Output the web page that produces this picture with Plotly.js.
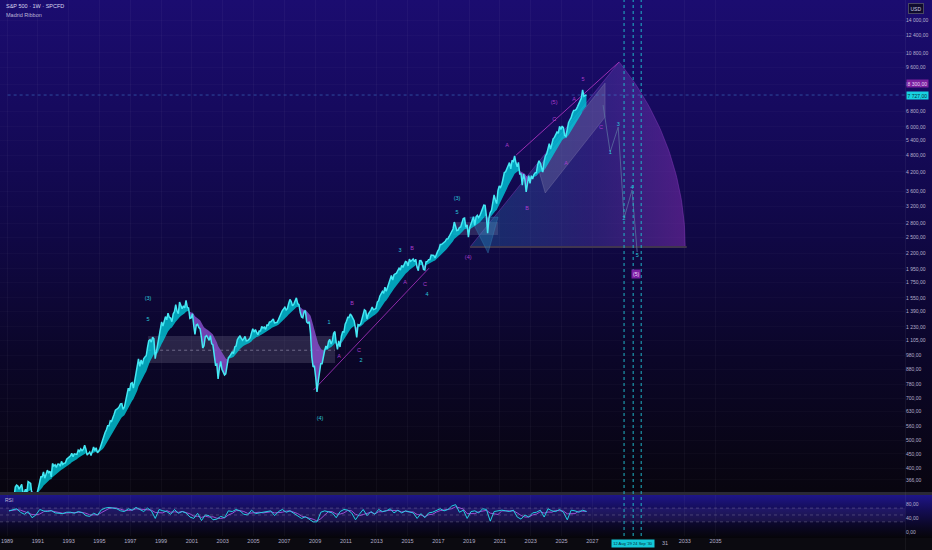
<!DOCTYPE html>
<html><head><meta charset="utf-8">
<script src="https://cdn.plot.ly/plotly-3.0.1.min.js"></script>
<style>
html,body{margin:0;padding:0;background:#07060c;width:932px;height:550px;overflow:hidden;}
#bgMain{position:absolute;left:0;top:0;width:932px;height:493px;background:linear-gradient(to bottom,#1b0c70 0%,#160a5e 22%,#100845 48%,#0b0629 72%,#08050f 100%);}
#bgRsi{position:absolute;left:0;top:495px;width:932px;height:43px;background:linear-gradient(to bottom,#1e1588 0%,#140d55 35%,#0a0722 75%,#060509 100%);}
#sep{position:absolute;left:0;top:492px;width:932px;height:3px;background:#2a2935;}
#bottom{position:absolute;left:0;top:538px;width:932px;height:12px;background:#0b0a10;}
#vsep{position:absolute;left:905px;top:0;width:1px;height:550px;background:rgba(255,255,255,0.05);}
#chart{position:absolute;left:0;top:0;width:932px;height:550px;}
</style></head>
<body>
<div id="bgMain"></div><div id="bgRsi"></div><div id="sep"></div><div id="bottom"></div><div id="vsep"></div>
<div id="chart"></div>
<script>
// ---------- DATA (monthly closes, read/estimated from the picture) ----------
const startYear = 1989;
const closes1989_1994 = [
 297.5,288.9,294.9,309.6,320.5,318.0,346.1,351.5,349.2,340.4,346.0,353.4,
 329.1,331.9,339.9,330.8,361.2,358.0,356.2,322.6,306.1,304.0,322.2,330.2,
 343.9,367.1,375.2,375.3,389.8,371.2,387.8,395.4,387.9,392.5,375.2,417.1,
 408.8,412.7,403.7,415.0,415.4,408.1,424.2,414.0,417.8,418.7,431.4,435.7,
 438.8,443.4,451.7,440.2,450.2,450.5,448.1,463.6,458.9,467.8,461.8,466.5,
 481.6,467.1,445.8,450.9,456.5,444.3,458.3,475.5,462.7,472.4,453.7,459.3];
const closes1995_2000 = [
 470.4,487.4,500.7,514.7,533.4,544.8,562.1,561.9,584.4,581.5,605.4,615.9,
 636.0,640.4,645.5,654.2,669.1,670.6,640.0,652.0,687.3,705.3,757.0,740.7,
 786.2,790.8,757.1,801.3,848.3,885.1,954.3,899.5,947.3,914.6,955.4,970.4,
 980.3,1049.3,1101.8,1111.8,1090.8,1133.8,1120.7,957.3,1017.0,1098.7,1163.6,1229.2,
 1279.6,1238.3,1286.4,1335.2,1301.8,1372.7,1328.7,1320.4,1282.7,1362.9,1388.9,1469.3,
 1394.5,1366.4,1498.6,1452.4,1420.6,1454.6,1430.8,1517.7,1436.5,1429.4,1315.0,1320.3];
const closes2001_2006 = [
 1366.0,1239.9,1160.3,1249.5,1255.8,1224.4,1211.2,1133.6,1040.9,1059.8,1139.5,1148.1,
 1130.2,1106.7,1147.4,1076.9,1067.1,989.8,911.6,916.1,815.3,885.8,936.3,879.8,
 855.7,841.2,848.2,916.9,963.6,974.5,990.3,1008.0,996.0,1050.7,1058.2,1111.9,
 1131.1,1144.9,1126.2,1107.3,1120.7,1140.8,1101.7,1104.2,1114.6,1130.2,1173.8,1211.9,
 1181.3,1203.6,1180.6,1156.9,1191.5,1191.3,1234.2,1220.3,1228.8,1207.0,1249.5,1248.3,
 1280.1,1280.7,1294.8,1310.6,1270.1,1270.2,1276.7,1303.8,1335.9,1377.9,1400.6,1418.3];
const closes2007_2012 = [
 1438.2,1406.8,1420.9,1482.4,1530.6,1503.4,1455.3,1474.0,1526.8,1549.4,1481.1,1468.4,
 1378.6,1330.6,1322.7,1385.6,1400.4,1280.0,1267.4,1282.8,1166.4,968.8,896.2,903.3,
 825.9,735.1,797.9,872.8,919.1,919.3,987.5,1020.6,1057.1,1036.2,1095.6,1115.1,
 1073.9,1104.5,1169.4,1186.7,1089.4,1030.7,1101.6,1049.3,1141.2,1183.3,1180.6,1257.6,
 1286.1,1327.2,1325.8,1363.6,1345.2,1320.6,1292.3,1218.9,1131.4,1253.3,1247.0,1257.6,
 1312.4,1365.7,1408.5,1397.9,1310.3,1362.2,1379.3,1406.6,1440.7,1412.2,1416.2,1426.2];
const closes2013_2018 = [
 1498.1,1514.7,1569.2,1597.6,1630.7,1606.3,1685.7,1633.0,1681.6,1756.5,1805.8,1848.4,
 1782.6,1859.5,1872.3,1884.0,1923.6,1960.2,1930.7,2003.4,1972.3,2018.1,2067.6,2058.9,
 1995.0,2104.5,2067.9,2085.5,2107.4,2063.1,2103.8,1972.2,1920.0,2079.4,2080.4,2043.9,
 1940.2,1932.2,2059.7,2065.3,2097.0,2098.9,2173.6,2171.0,2168.3,2126.2,2199.0,2238.8,
 2278.9,2363.6,2362.7,2384.2,2411.8,2423.4,2470.3,2471.7,2519.4,2575.3,2647.6,2673.6,
 2823.8,2713.8,2640.9,2648.1,2705.3,2718.4,2816.3,2901.5,2914.0,2711.7,2760.2,2506.9];
const closes2019_2026 = [
 2704.1,2784.5,2834.4,2945.8,2752.1,2941.8,2980.4,2926.5,2976.7,3037.6,3141.0,3230.8,
 3225.5,2954.2,2584.6,2912.4,3044.3,3100.3,3271.1,3500.3,3363.0,3270.0,3621.6,3756.1,
 3714.2,3811.2,3972.9,4181.2,4204.1,4297.5,4395.3,4522.7,4307.5,4605.4,4567.0,4766.2,
 4515.6,4373.9,4530.4,4131.9,4132.2,3785.4,4130.3,3955.0,3585.6,3872.0,4080.1,3839.5,
 4076.6,3970.2,4109.3,4169.5,4179.8,4450.4,4589.0,4507.7,4288.1,4193.8,4567.8,4769.8,
 4845.7,5096.3,5254.4,5035.7,5277.5,5460.5,5522.3,5648.4,5762.5,5705.5,6032.4,5881.6,
 6040.5,5954.5,5611.9,5569.1,5911.7,6205.0,6339.4,6460.3,6688.5,6840.2,6849.1,6900.0,
 7050,7250,7400,7550,8050,7650,7700,7727];

const rsiStartYear = 1989;
const rsiValues = [
 62,66,68,58, 52,60,42,50, 66,62,60,63, 56,55,54,58, 58,55,60,57, 48,46,55,50,
 65,70,72,70, 68,62,60,68, 64,72,65,60, 70,62,40,66, 62,60,52,66, 55,60,56,44,
 40,55,34,50, 48,36,38,46, 42,62,60,66, 62,52,50,64, 54,56,58,58, 62,48,60,66,
 58,62,54,46, 40,45,38,30, 30,58,62,60, 56,42,60,66, 64,56,36,52, 66,48,60,52,
 66,60,62,68, 56,64,56,62, 58,56,40,54, 42,56,58,62, 68,62,66,76, 80,58,64,40,
 60,62,56,68, 66,32,60,62, 64,62,60,64, 44,38,50,44, 56,58,64,44, 68,62,60,66,
 58,36,64,62, 58,64,60];

// price axis tick labels
const priceTicks = [14000,12400,10800,9600,8400,6800,6000,5400,4800,4200,3600,3200,2800,2500,2200,
 1950,1750,1550,1390,1230,1105,980,880,780,700,630,560,500,450,400,366];
const yearTicks = [1989,1991,1993,1995,1997,1999,2001,2003,2005,2007,2009,2011,2013,2015,2017,2019,2021,2023,2025,2027,2033,2035];
const rsiTicks = [0,40,80];

// drawing anchors (year, price)
const peakHighLabel = 8300;
const arcBaseStart = 2019.06, arcBasePrice = 2317, arcApexYear = 2028.74, arcApexPrice = 10035,
      arcCenterYear = 2013.48, arcEndYear = 2033.03;
const rangeBox = {x0:1998.16, x1:2010.3, y0:925, y1:1145, mid:1023};
const box2019 = {x0:2017.96, x1:2020.88, y0:2547, y1:2825};
const triYears = [2019.06, 2020.88, 2020.23], triPrices = [2937, 2937, 2210];
const channelYears = [2023.48, 2027.83, 2027.83, 2023.94], channelPrices = [4335, 8494, 6490, 3556];
const lowLineYears = [2008.9, 2016.4], lowLinePrices = [746, 1960];
const topLineYears = [2022.05, arcApexYear], topLinePrices = [4800, arcApexPrice];
const projYears = [2027.70, 2028.16, 2028.68, 2029.06, 2029.58, 2029.91];
const projPrices = [7137, 4918, 5995, 2915, 3639, 2227];
const vLineYears = [2029.06, 2029.65, 2030.17];
const cyanLblYears = [1998.16,1998.16,2009.32,2009.91,2011.99,2014.52,2016.27,2018.22,2018.22,2028.16,2028.68,2029.06,2029.58,2029.91];
const cyanLblPrices = [1535,1299,593,1269,939,2245,1584,3388,3034,4879,6090,2892,3698,2157];
const cyanLblTexts = ['(3)','5','(4)','1','2','3','4','(3)','5','1','3','2','4','5'];
const purpLblYears = [2011.40,2010.56,2011.86,2014.84,2015.30,2016.14,2018.94,2021.47,2022.77,2024.52,2024.52,2025.30,2025.82,2026.40,2027.57];
const purpLblPrices = [1475,969,1016,1742,2280,1714,2123,5157,3130,7251,6337,4472,7425,8700,5948];
const purpLblTexts = ['B','A','C','A','B','C','(4)','A','B','(5)','C','A','A','5','C'];

// ---------- helpers ----------
function yd(y){const yr=Math.floor(y);const a=Date.UTC(yr,0,1),b=Date.UTC(yr+1,0,1);return new Date(a+(y-yr)*(b-a)).toISOString().slice(0,10);}
function fmt(v){const s=v.toFixed(2).split('.');return s[0].replace(/\B(?=(\d{3})+(?!\d))/g,' ')+','+s[1];}

const closes = [].concat(closes1989_1994,closes1995_2000,closes2001_2006,closes2007_2012,closes2013_2018,closes2019_2026);
const dates = closes.map((_,i)=>{const y=startYear+Math.floor(i/12),m=i%12;return y+'-'+String(m+1).padStart(2,'0')+'-15';});
const n = closes.length;
const lastClose = closes[n-1];

// Madrid-style ribbon: EMA of closes
const emaN = 16, k = 2/(emaN+1);
const ema = [closes[0]];
for(let i=1;i<n;i++) ema.push(closes[i]*k + ema[i-1]*(1-k));
const state = closes.map((c,i)=>c>=ema[i]);
const upX=[],upY=[],dnX=[],dnY=[];
let s=0;
for(let i=1;i<=n;i++){
  if(i===n || state[i]!==state[s]){
    const e=Math.min(i,n-1);
    const X=[],Y=[];
    for(let j=s;j<=e;j++){X.push(dates[j]);Y.push(closes[j]);}
    for(let j=e;j>=s;j--){X.push(dates[j]);Y.push(ema[j]);}
    if(state[s]){upX.push(...X,null);upY.push(...Y,null);} else {dnX.push(...X,null);dnY.push(...Y,null);}
    s=i;
  }
}

// RSI
const rsiDates = rsiValues.map((_,i)=>yd(rsiStartYear+Math.floor(i/4)+((i%4)*3+1.5)/12));
const rsiMA = rsiValues.map((v,i)=>{const a=rsiValues.slice(Math.max(0,i-2),i+1);return a.reduce((p,q)=>p+q,0)/a.length;});

// arc sector
const cyL = Math.log10(arcBasePrice);
const rx = arcEndYear-arcCenterYear;
const tA = Math.acos((arcApexYear-arcCenterYear)/rx);
const ry = (Math.log10(arcApexPrice)-cyL)/Math.sin(tA);
const secX=[yd(arcBaseStart)], secY=[arcBasePrice];
for(let t=tA;t>=-1e-9;t-=tA/40){secX.push(yd(arcCenterYear+rx*Math.cos(t)));secY.push(Math.pow(10,cyL+ry*Math.sin(t)));}
secX.push(yd(arcEndYear)); secY.push(arcBasePrice);
secX.push(yd(arcBaseStart)); secY.push(arcBasePrice);

const traces = [];
const L = (o)=>Object.assign({type:'scatter',hoverinfo:'skip',xaxis:'x',yaxis:'y'},o);
// range box
traces.push(L({x:[yd(rangeBox.x0),yd(rangeBox.x1),yd(rangeBox.x1),yd(rangeBox.x0),yd(rangeBox.x0)],y:[rangeBox.y0,rangeBox.y0,rangeBox.y1,rangeBox.y1,rangeBox.y0],mode:'lines',fill:'toself',fillcolor:'rgba(140,132,165,0.24)',line:{width:0}}));
traces.push(L({x:[yd(rangeBox.x0),yd(rangeBox.x1)],y:[rangeBox.mid,rangeBox.mid],mode:'lines',line:{color:'rgba(200,195,225,0.55)',width:0.8,dash:'dot'}}));
// sector
traces.push(L({x:secX,y:secY,mode:'lines',fill:'toself',line:{color:'rgba(140,60,190,0.55)',width:0.8},
  fillgradient:{type:'horizontal',colorscale:[[0,'rgba(30,105,165,0.38)'],[0.55,'rgba(75,60,170,0.42)'],[1,'rgba(125,45,175,0.55)']]}}));
// baseline
traces.push(L({x:[yd(arcBaseStart),yd(arcEndYear+0.1)],y:[arcBasePrice,arcBasePrice],mode:'lines',line:{color:'#40354f',width:2}}));
// 2019 box and triangle
traces.push(L({x:[yd(box2019.x0),yd(box2019.x1),yd(box2019.x1),yd(box2019.x0),yd(box2019.x0)],y:[box2019.y0,box2019.y0,box2019.y1,box2019.y1,box2019.y0],mode:'lines',fill:'toself',fillcolor:'rgba(150,150,180,0.22)',line:{width:0}}));
traces.push(L({x:triYears.map(yd).concat([yd(triYears[0])]),y:triPrices.concat([triPrices[0]]),mode:'lines',fill:'toself',fillcolor:'rgba(40,130,185,0.35)',line:{color:'rgba(60,150,200,0.5)',width:0.6}}));
// channel
traces.push(L({x:channelYears.map(yd).concat([yd(channelYears[0])]),y:channelPrices.concat([channelPrices[0]]),mode:'lines',fill:'toself',fillcolor:'rgba(150,148,180,0.26)',line:{color:'rgba(170,165,200,0.4)',width:0.6}}));
// trend lines
traces.push(L({x:lowLineYears.map(yd),y:lowLinePrices,mode:'lines',line:{color:'#8e2aa8',width:1}}));
traces.push(L({x:topLineYears.map(yd),y:topLinePrices,mode:'lines',line:{color:'#9a2fb4',width:1}}));
traces.push(L({x:projYears.map(yd),y:projPrices,mode:'lines',line:{color:'rgba(90,110,160,0.8)',width:1}}));
// current price line
traces.push(L({x:[dates[0],yd(2047.3)],y:[lastClose,lastClose],mode:'lines',line:{color:'rgba(70,140,220,0.5)',width:1,dash:'dot'}}));
// ribbon
traces.push(L({x:upX,y:upY,mode:'lines',fill:'toself',fillcolor:'rgba(0,200,218,0.8)',line:{width:0},connectgaps:false}));
traces.push(L({x:dnX,y:dnY,mode:'lines',fill:'toself',fillcolor:'rgba(132,78,200,0.85)',line:{width:0},connectgaps:false}));
// price
traces.push(L({x:dates,y:closes,mode:'lines',line:{color:'#45e8f4',width:1.5}}));
// RSI
traces.push({type:'scatter',x:rsiDates,y:rsiMA,mode:'lines',line:{color:'#9b4fd4',width:1},xaxis:'x',yaxis:'y2',hoverinfo:'skip'});
traces.push({type:'scatter',x:rsiDates,y:rsiValues,mode:'lines',line:{color:'#22d0e4',width:1},xaxis:'x',yaxis:'y2',hoverinfo:'skip'});
// wave labels
traces.push(L({x:cyanLblYears.map(yd),y:cyanLblPrices,mode:'text',text:cyanLblTexts,textfont:{family:'Liberation Sans, Arial, sans-serif',size:5.5,color:'#2ac8dc'}}));
traces.push(L({x:purpLblYears.map(yd),y:purpLblPrices,mode:'text',text:purpLblTexts,textfont:{family:'Liberation Sans, Arial, sans-serif',size:5.5,color:'#a83ccc'}}));

const shapes = [
  {type:'rect',xref:'paper',yref:'y2',x0:0,x1:1,y0:30,y1:70,fillcolor:'rgba(120,95,210,0.12)',line:{width:0},layer:'below'},
  ...[70,50,30].map(v=>({type:'line',xref:'paper',yref:'y2',x0:0,x1:1,y0:v,y1:v,line:{color:'rgba(150,145,175,0.45)',width:0.8,dash:'dot'}})),
  ...vLineYears.map(v=>({type:'line',xref:'x',yref:'paper',x0:yd(v),x1:yd(v),y0:0,y1:1,line:{color:'#1fb6c8',width:1,dash:'dot'}}))
];

const F='Liberation Sans, Arial, sans-serif';
const annotations = [
  {xref:'paper',yref:'paper',x:0.004,y:1-6/536,xanchor:'left',yanchor:'middle',text:'S&P 500 · 1W · SPCFD',showarrow:false,font:{family:F,size:5.5,color:'#d9d6ee'}},
  {xref:'paper',yref:'paper',x:0.004,y:1-15/536,xanchor:'left',yanchor:'middle',text:'Madrid Ribbon',showarrow:false,font:{family:F,size:5.5,color:'#bcb8d8'}},
  {xref:'paper',yref:'paper',x:0.003,y:1-500/536,xanchor:'left',yanchor:'middle',text:'RSI',showarrow:false,font:{family:F,size:5,color:'#bcb8d8'}},
  {xref:'paper',yref:'paper',x:916/905,y:1-8/536,xanchor:'center',yanchor:'middle',text:'USD',showarrow:false,font:{family:F,size:5,color:'#d0cde6'},bgcolor:'#0f0b2e',bordercolor:'#4a4862',borderwidth:1,borderpad:1.5},
  {xref:'paper',yref:'y',x:1.001,y:Math.log10(peakHighLabel),xanchor:'left',yanchor:'bottom',yshift:-2,text:fmt(peakHighLabel),showarrow:false,font:{family:F,size:5,color:'#e6d6f5'},bgcolor:'#7a1f9e',borderpad:0.5},
  {xref:'paper',yref:'y',x:1.001,y:Math.log10(lastClose),xanchor:'left',yanchor:'middle',text:fmt(lastClose),showarrow:false,font:{family:F,size:5,color:'#06303a'},bgcolor:'#18d2e2',borderpad:0.5},
  {xref:'x',yref:'y',x:yd(2029.84),y:Math.log10(1871),text:'(5)',showarrow:false,font:{family:F,size:5,color:'#f0d8ff'},bgcolor:'#7b1fa2',borderpad:1},
  {xref:'paper',yref:'paper',x:611/905,y:-7/536,xanchor:'left',yanchor:'middle',text:"12 Aug '29 24 Sep '30",showarrow:false,font:{family:F,size:4,color:'#062a36'},bgcolor:'#14c8d8',borderpad:1.2},
  {xref:'paper',yref:'paper',x:665/905,y:-7/536,xanchor:'center',yanchor:'middle',text:'31',showarrow:false,font:{family:F,size:5.5,color:'#b0adc8'}}
];

const layout = {
  width:932,height:550,
  margin:{l:0,r:27,t:0,b:14,pad:0},
  paper_bgcolor:'rgba(0,0,0,0)',plot_bgcolor:'rgba(0,0,0,0)',
  showlegend:false,hovermode:false,
  font:{family:F,size:5,color:'#b4b0cc'},
  xaxis:{type:'date',range:[yd(1988.545),yd(2047.3)],anchor:'y2',
    tickvals:yearTicks.map(y=>y+'-01-01'),ticktext:yearTicks.map(String),
    showgrid:true,gridcolor:'rgba(255,255,255,0.035)',gridwidth:1,zeroline:false,showline:false,ticks:'',
    tickfont:{family:F,size:5.5,color:'#b0adc8'},fixedrange:true},
  yaxis:{type:'log',domain:[44/536,1],range:[2.522,4.215],side:'right',anchor:'x',
    tickvals:priceTicks,ticktext:priceTicks.map(fmt),showgrid:true,gridcolor:'rgba(255,255,255,0.022)',
    zeroline:false,showline:false,ticks:'',tickfont:{family:F,size:5,color:'#b4b0cc'},automargin:false,fixedrange:true},
  yaxis2:{domain:[0,41/536],range:[-11,108],side:'right',anchor:'x',tickvals:rsiTicks,ticktext:rsiTicks.map(fmt),
    showgrid:false,zeroline:false,showline:false,ticks:'',tickfont:{family:F,size:5,color:'#b4b0cc'},automargin:false,fixedrange:true},
  shapes:shapes,annotations:annotations
};

Plotly.newPlot('chart',traces,layout,{staticPlot:true,displayModeBar:false});
</script>
</body></html>
